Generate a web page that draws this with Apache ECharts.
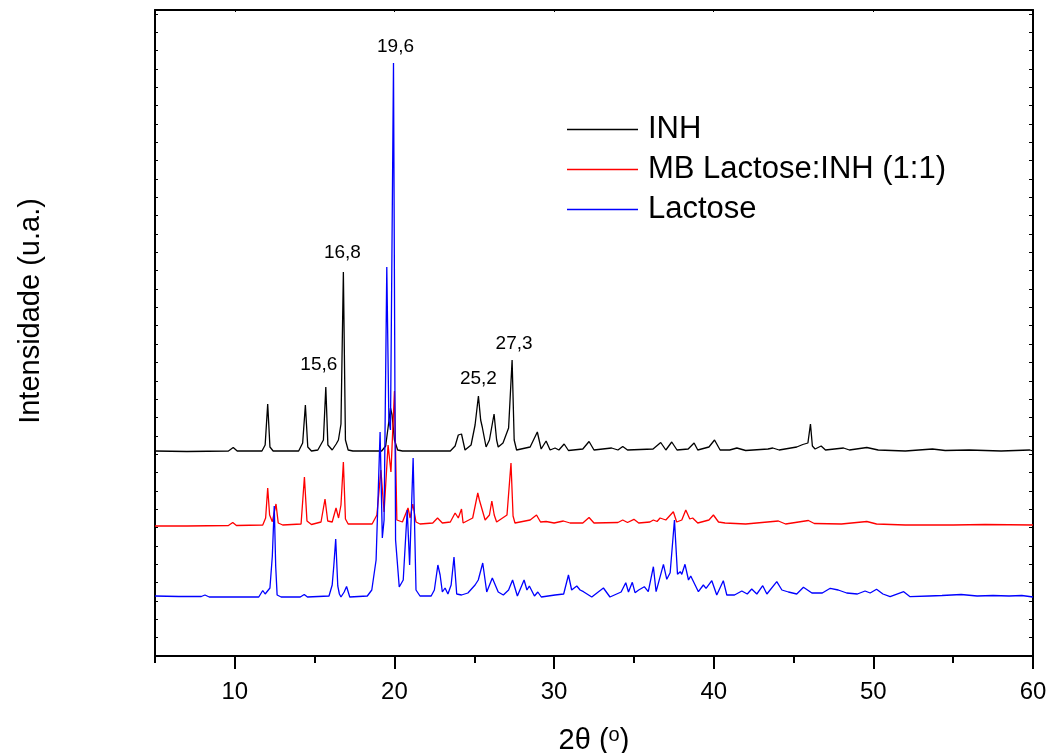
<!DOCTYPE html>
<html>
<head>
<meta charset="utf-8">
<script src="https://cdn.jsdelivr.net/npm/echarts@6/dist/echarts.min.js"></script>
<style>
html,body{margin:0;padding:0;background:#fff;}
#chart{width:1051px;height:753px;}
</style>
</head>
<body>
<div id="chart"></div>
<script>
// ---- data (2θ in degrees, intensity in arbitrary units) ----
const xTickLabels = [10, 20, 30, 40, 50, 60];
const xMinorTicks = [5, 15, 25, 35, 45, 55];
const seriesNames = ['INH', 'MB Lactose:INH (1:1)', 'Lactose'];

const inh = [
 [5.0,205],[7.0,204.5],[9.6,205],[9.9,208.5],[10.15,205],[11.7,205],[11.9,211],[12.06,252],[12.2,209],[12.4,205],
 [14.0,205],[14.25,213],[14.42,251],[14.57,209],[14.8,205],[15.2,206],[15.34,210],[15.55,216],[15.7,269],[15.83,211],
 [16.1,206],[16.35,212],[16.49,216],[16.65,232],[16.8,384],[16.93,216],[17.1,206],[17.4,205],[19.2,205],[19.45,210],
 [19.62,231],[19.75,248],[19.85,241],[20.0,216],[20.2,206],[20.5,205],[23.5,205],[23.8,210],[24.0,221],[24.2,222],
 [24.42,206],[24.8,211],[25.05,231],[25.26,260],[25.4,236],[25.5,229],[25.74,209],[25.95,216],[26.24,242],[26.4,216],
 [26.5,209],[26.8,213],[27.15,228],[27.37,296],[27.5,216],[27.65,206],[28.5,209],[28.95,224],[29.19,207],[29.5,215],
 [29.75,206],[30.06,208],[30.3,206],[30.63,212],[30.9,205.5],[31.8,207],[32.19,214.5],[32.5,206],[33.6,208],[34.0,206],
 [34.3,209.5],[34.6,206],[36.2,207],[36.68,213.5],[37.0,206],[37.37,214],[37.7,206],[38.4,207],[38.77,213],[39.0,206],
 [39.7,209],[40.05,216],[40.4,206],[41.0,206],[41.45,208],[42.0,205.5],[43.4,207],[43.7,208],[44.1,206],[45.2,209],
 [45.58,211.5],[45.9,213],[46.06,232],[46.18,210],[46.35,207],[46.73,210],[47.0,206],[48.13,208],[48.5,206],[49.59,208.5],
 [50.3,206],[52.0,205],[53.7,207],[54.5,205.5],[56.0,206],[58.0,205],[59.8,206],[60.0,205]
];

const mix = [
 [5.0,130],[7.0,130],[9.6,130.5],[9.87,133.5],[10.1,130.5],[11.75,131],[11.93,138],[12.06,168],[12.18,141],[12.35,134.3],
 [12.58,152],[12.72,133],[13.0,131],[14.15,132],[14.36,179],[14.52,135],[14.8,131.5],[15.4,134],[15.65,157],[15.82,135],
 [16.1,134],[16.34,148],[16.5,138],[16.65,151],[16.8,194],[16.93,137],[17.1,132],[18.6,132],[18.9,141],[19.15,186],
 [19.35,144],[19.6,211],[19.78,184],[20.0,265],[20.15,136],[20.5,134],[20.85,148],[20.98,138],[21.15,152],[21.35,134],
 [21.6,132],[22.4,133],[22.7,138],[23.0,133],[23.5,134],[23.8,143],[24.0,138],[24.2,147],[24.3,133],[24.9,138],
 [25.22,163],[25.32,156],[25.4,157],[25.68,136],[25.95,141],[26.1,155],[26.25,141],[26.4,134],[27.05,141],[27.3,193],
 [27.43,140],[27.55,133],[28.5,136],[28.9,141],[29.15,134],[29.5,134.5],[30.0,133],[30.58,135],[31.0,133],[31.8,133],
 [32.19,138.5],[32.5,133],[34.0,133.5],[34.3,136],[34.6,133.5],[35.0,136.7],[35.3,133],[36.0,134],[36.22,136],[36.45,134.5],
 [36.64,138],[37.0,136],[37.47,144.3],[37.68,134],[38.0,136],[38.25,146],[38.5,137],[38.68,138],[39.0,133],[39.7,136],
 [39.98,141],[40.3,134],[40.71,133],[42.0,132],[44.05,135],[44.5,132],[45.93,135.5],[46.3,132.5],[48.0,132],[49.59,134.5],
 [50.2,132],[52.0,131],[55.0,131],[57.0,131.5],[60.0,131]
];

const lactose = [
 [5.0,60],[6.5,59.5],[7.9,59.5],[8.13,61],[8.4,59],[10.0,59],[11.5,59],[11.75,65.5],[11.9,62],[12.2,68],
 [12.35,100],[12.47,150],[12.56,90],[12.65,61],[12.9,59],[14.1,59],[14.35,61.5],[14.55,59],[15.9,60],[16.1,71],
 [16.2,90],[16.32,117],[16.45,70],[16.55,62],[16.65,59],[16.85,64],[17.0,69.5],[17.2,59],[18.3,60],[18.58,66],
 [18.85,96],[19.1,224],[19.24,118],[19.35,136],[19.52,389],[19.65,236],[19.75,226],[19.94,593],[20.07,116],[20.3,69],
 [20.55,76],[20.8,146],[20.95,91],[21.17,198],[21.35,66],[21.6,60],[22.3,60],[22.5,66],[22.72,91],[22.86,81],
 [23.0,64],[23.17,68],[23.35,62],[23.55,71],[23.73,99],[23.9,62],[24.2,61],[24.6,63],[25.05,71],[25.25,76],
 [25.53,93],[25.78,64],[26.13,78],[26.5,64],[26.82,61],[27.15,66],[27.4,76],[27.7,60],[28.12,76],[28.3,66],
 [28.45,70],[28.77,60],[28.98,64],[29.2,59],[30.06,61],[30.6,62],[30.9,81],[31.1,66],[31.42,70],[31.63,66],
 [31.84,64.3],[32.36,59],[33.09,68],[33.5,59],[34.2,64],[34.49,73.3],[34.66,64],[34.9,73.7],[35.07,63.3],[35.3,66],
 [35.65,69.3],[35.9,64.3],[36.22,89.3],[36.39,64.3],[36.85,91.7],[37.06,76.7],[37.27,83.3],[37.54,136],[37.73,81.7],[37.9,84.3],
 [38.0,81.7],[38.2,91.7],[38.42,76],[38.56,80],[39.04,64.3],[39.35,71],[39.52,67.7],[39.88,75.3],[40.19,61],[40.6,75.3],
 [40.82,61],[41.3,61],[41.76,65],[42.1,62],[42.38,67],[42.7,62],[43.07,70.3],[43.33,62],[43.95,74.3],[44.27,66],
 [44.68,64],[45.2,62],[45.62,68.7],[46.15,63],[46.8,63],[47.3,67.7],[47.8,66],[48.33,63],[49.0,62],[49.48,65],
 [49.8,63],[50.2,66.7],[50.6,62],[51.05,59.3],[51.9,64.3],[52.3,59.3],[53.5,60],[54.3,60.5],[55.5,61.5],[56.5,60],
 [57.5,60.5],[58.5,60],[59.3,60.5],[60.0,59]
];

const peakLabelText = ['15,6', '16,8', '19,6', '25,2', '27,3'];
const peakLabelX = [15.7, 16.8, 19.94, 25.26, 27.37];
const peakLabelSeries = ['INH', 'INH', 'Lactose', 'INH', 'INH'];

// ---- build chart ----
const FONT = '"Liberation Sans", Arial, Helvetica, sans-serif';
const dataByName = { 'INH': inh, 'MB Lactose:INH (1:1)': mix, 'Lactose': lactose };
const colors = { 'INH': '#000000', 'MB Lactose:INH (1:1)': '#ff0000', 'Lactose': '#0000ff' };
const labelOffsets = [[-7,-8],[-1,-5],[2,-2],[0,-3],[2,-2]];

function peakPoint(data, x) {
  let best = data[0];
  for (const p of data) if (Math.abs(p[0] - x) < Math.abs(best[0] - x)) best = p;
  return best;
}

const labelData = peakLabelText.map((t, i) => {
  const p = peakPoint(dataByName[peakLabelSeries[i]], peakLabelX[i]);
  return { name: t, value: [p[0], p[1]], label: { offset: labelOffsets[i] } };
});

const yMax = 646, yStep = 18.35;

const chart = echarts.init(document.getElementById('chart'), null, { renderer: 'canvas' });

const lineSeries = seriesNames.map((n, i) => ({
  name: n,
  type: 'line',
  data: dataByName[n],
  symbol: 'none',
  showSymbol: false,
  lineStyle: { color: colors[n], width: 1.3 },
  itemStyle: { color: colors[n] },
  z: 2 + i,
  xAxisIndex: 0,
  yAxisIndex: 0
}));

const option = {
  animation: false,
  backgroundColor: '#ffffff',
  textStyle: { fontFamily: FONT },
  grid: { left: 155, right: 18, top: 10, bottom: 97, containLabel: false, outerBoundsMode: 'none' },
  legend: {
    data: seriesNames,
    orient: 'vertical',
    left: 567,
    top: 114,
    padding: 0,
    icon: 'rect',
    itemWidth: 71,
    itemHeight: 1.5,
    itemGap: 9,
    textStyle: { fontSize: 31, color: '#000', fontFamily: FONT, lineHeight: 30, padding: [0,0,0,5] }
  },
  xAxis: [
    {
      type: 'value', min: 5, max: 60, position: 'bottom',
      name: '2θ ({sup|o})', nameLocation: 'middle', nameGap: 69,
      nameTextStyle: { fontSize: 29, color: '#000', fontFamily: FONT,
        rich: { sup: { fontSize: 20, verticalAlign: 'top', padding: [0,0,12,0], color: '#000', fontFamily: FONT } } },
      axisLine: { show: true, onZero: false, lineStyle: { color: '#000', width: 2 } },
      axisTick: { show: true, inside: false, length: 13, lineStyle: { color: '#000', width: 2 }, customValues: xTickLabels },
      axisLabel: { show: true, fontSize: 24, color: '#000', margin: 24, fontFamily: FONT, customValues: xTickLabels },
      splitLine: { show: false }
    },
    {
      type: 'value', min: 5, max: 60, position: 'bottom',
      axisLine: { show: false, onZero: false },
      axisTick: { show: true, inside: false, length: 7, lineStyle: { color: '#000', width: 2 }, customValues: xMinorTicks },
      axisLabel: { show: false },
      splitLine: { show: false }
    },
    {
      type: 'value', min: 5, max: 60, position: 'top',
      axisLine: { show: true, onZero: false, lineStyle: { color: '#000', width: 2 } },
      axisTick: { show: true, inside: true, length: 2, lineStyle: { color: '#000', width: 1 }, customValues: xTickLabels },
      axisLabel: { show: false },
      splitLine: { show: false }
    }
  ],
  yAxis: [
    {
      type: 'value', min: 0, max: yMax, interval: yStep, position: 'left',
      name: 'Intensidade (u.a.)', nameLocation: 'middle', nameGap: 110,
      nameTextStyle: { fontSize: 29, color: '#000', fontFamily: FONT, padding: [0,0,0,44] },
      axisLine: { show: true, onZero: false, lineStyle: { color: '#000', width: 2 } },
      axisTick: { show: true, inside: true, length: 3, lineStyle: { color: '#000', width: 1 } },
      axisLabel: { show: false },
      splitLine: { show: false }
    },
    {
      type: 'value', min: 0, max: yMax, interval: yStep, position: 'right',
      axisLine: { show: true, onZero: false, lineStyle: { color: '#000', width: 2 } },
      axisTick: { show: true, inside: true, length: 4, lineStyle: { color: '#000', width: 1 } },
      axisLabel: { show: false },
      splitLine: { show: false }
    }
  ],
  series: lineSeries.concat([{
    name: 'peakLabels',
    type: 'scatter',
    data: labelData,
    symbol: 'circle',
    symbolSize: 0,
    itemStyle: { color: '#000', opacity: 1 },
    silent: true,
    z: 10,
    label: {
      show: true, position: 'top', distance: 5,
      formatter: p => p.name,
      fontSize: 19, color: '#000', opacity: 1, fontFamily: FONT
    }
  }])
};

chart.setOption(option);
</script>
</body>
</html>
